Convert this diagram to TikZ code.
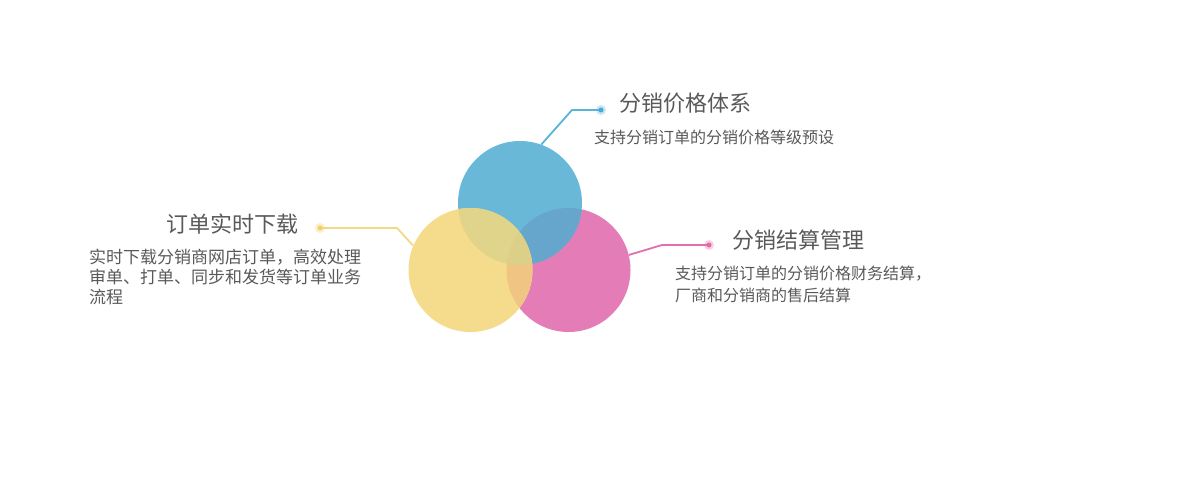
\documentclass[tikz,border=0pt]{standalone}
\usepackage{fontspec}
\newfontfamily\cjk{Noto Sans CJK SC}
\definecolor{cblue}{HTML}{6AB8D8}
\definecolor{cpink}{HTML}{E47DB7}
\definecolor{cyellow}{HTML}{F5DC8D}
\definecolor{cbp}{HTML}{66A6CC}
\definecolor{cyb}{HTML}{E0D38A}
\definecolor{cyp}{HTML}{F0C584}
\definecolor{cybp}{HTML}{DCCF88}
\definecolor{lblue}{HTML}{5AB4DA}
\definecolor{lyellow}{HTML}{F3D985}
\definecolor{lpink}{HTML}{E36FB0}
\definecolor{dblue}{HTML}{4AA8D8}
\definecolor{hblue}{HTML}{C8E6F4}
\definecolor{dyellow}{HTML}{F0D070}
\definecolor{hyellow}{HTML}{FBEFC8}
\definecolor{dpink}{HTML}{E26AA9}
\definecolor{hpink}{HTML}{F7D0E5}
\definecolor{txt}{HTML}{595959}
\begin{document}
\begin{tikzpicture}[x=1pt,y=-1pt,
  ball/.style={circle,minimum size=124pt,inner sep=0pt,draw=none},
  conn/.style={line width=1.8pt,line join=round},
  halo/.style={circle,inner sep=0pt,minimum size=10pt,draw=none},
  title/.style={anchor=base west,inner sep=0pt,text=txt,font=\cjk\fontsize{22}{26}\selectfont},
  body/.style={anchor=base west,inner sep=0pt,text=txt,font=\cjk\fontsize{16}{20}\selectfont},
  lbody/.style={anchor=base west,inner sep=0pt,text=txt,font=\cjk\fontsize{17}{20}\selectfont}]
\useasboundingbox (0,0) rectangle (1200,500);
% circles
\node[ball,fill=cpink] (pink) at (568.5,270) {};
\node[ball,fill=cblue] (blue) at (520,203) {};
\node[ball,fill=cyellow] (yellow) at (470.5,270) {};
\begin{scope}
  \clip (520,203) circle (62);
  \fill[cbp] (568.5,270) circle (62);
\end{scope}
\begin{scope}
  \clip (470.5,270) circle (62);
  \fill[cyp] (568.5,270) circle (62);
  \fill[cyb] (520,203) circle (62);
  \clip (520,203) circle (62);
  \fill[cybp] (568.5,270) circle (62);
\end{scope}
% connectors
\coordinate (bbend) at (572,110);
\coordinate (ybend) at (397,228);
\coordinate (pbend) at (662,245);
\node[halo,fill=hblue] (bhalo) at (601,110) {};
\node[halo,fill=hyellow] (yhalo) at (320,228) {};
\node[halo,fill=hpink] (phalo) at (709,245) {};
\draw[conn,lblue] (blue.70) -- (bbend) -- (bhalo.center);
\draw[conn,lyellow] (yellow.157) -- (ybend) -- (yhalo.center);
\draw[conn,lpink] (pink.14) -- (pbend) -- (phalo.center);
\node[circle,inner sep=0pt,minimum size=5pt,fill=dblue] (bdot) at (bhalo) {};
\node[circle,inner sep=0pt,minimum size=5pt,fill=dyellow] (ydot) at (yhalo) {};
\node[circle,inner sep=0pt,minimum size=5pt,fill=dpink] (pdot) at (phalo) {};
% texts
\node[title] (t1) at (619,111.5) {分销价格体系};
\node[body] (b1) at (594,144) {支持分销订单的分销价格等级预设};
\node[title] (t2) at (166,232.5) {订单实时下载};
\node[lbody] (b2a) at (89,263) {实时下载分销商网店订单，高效处理};
\node[lbody] (b2b) at (89,283) {审单、打单、同步和发货等订单业务};
\node[lbody] (b2c) at (89,303) {流程};
\node[title] (t3) at (732,248.5) {分销结算管理};
\node[body] (b3a) at (675,279) {支持分销订单的分销价格财务结算，};
\node[body] (b3b) at (675,301) {厂商和分销商的售后结算};
\end{tikzpicture}
\end{document}
